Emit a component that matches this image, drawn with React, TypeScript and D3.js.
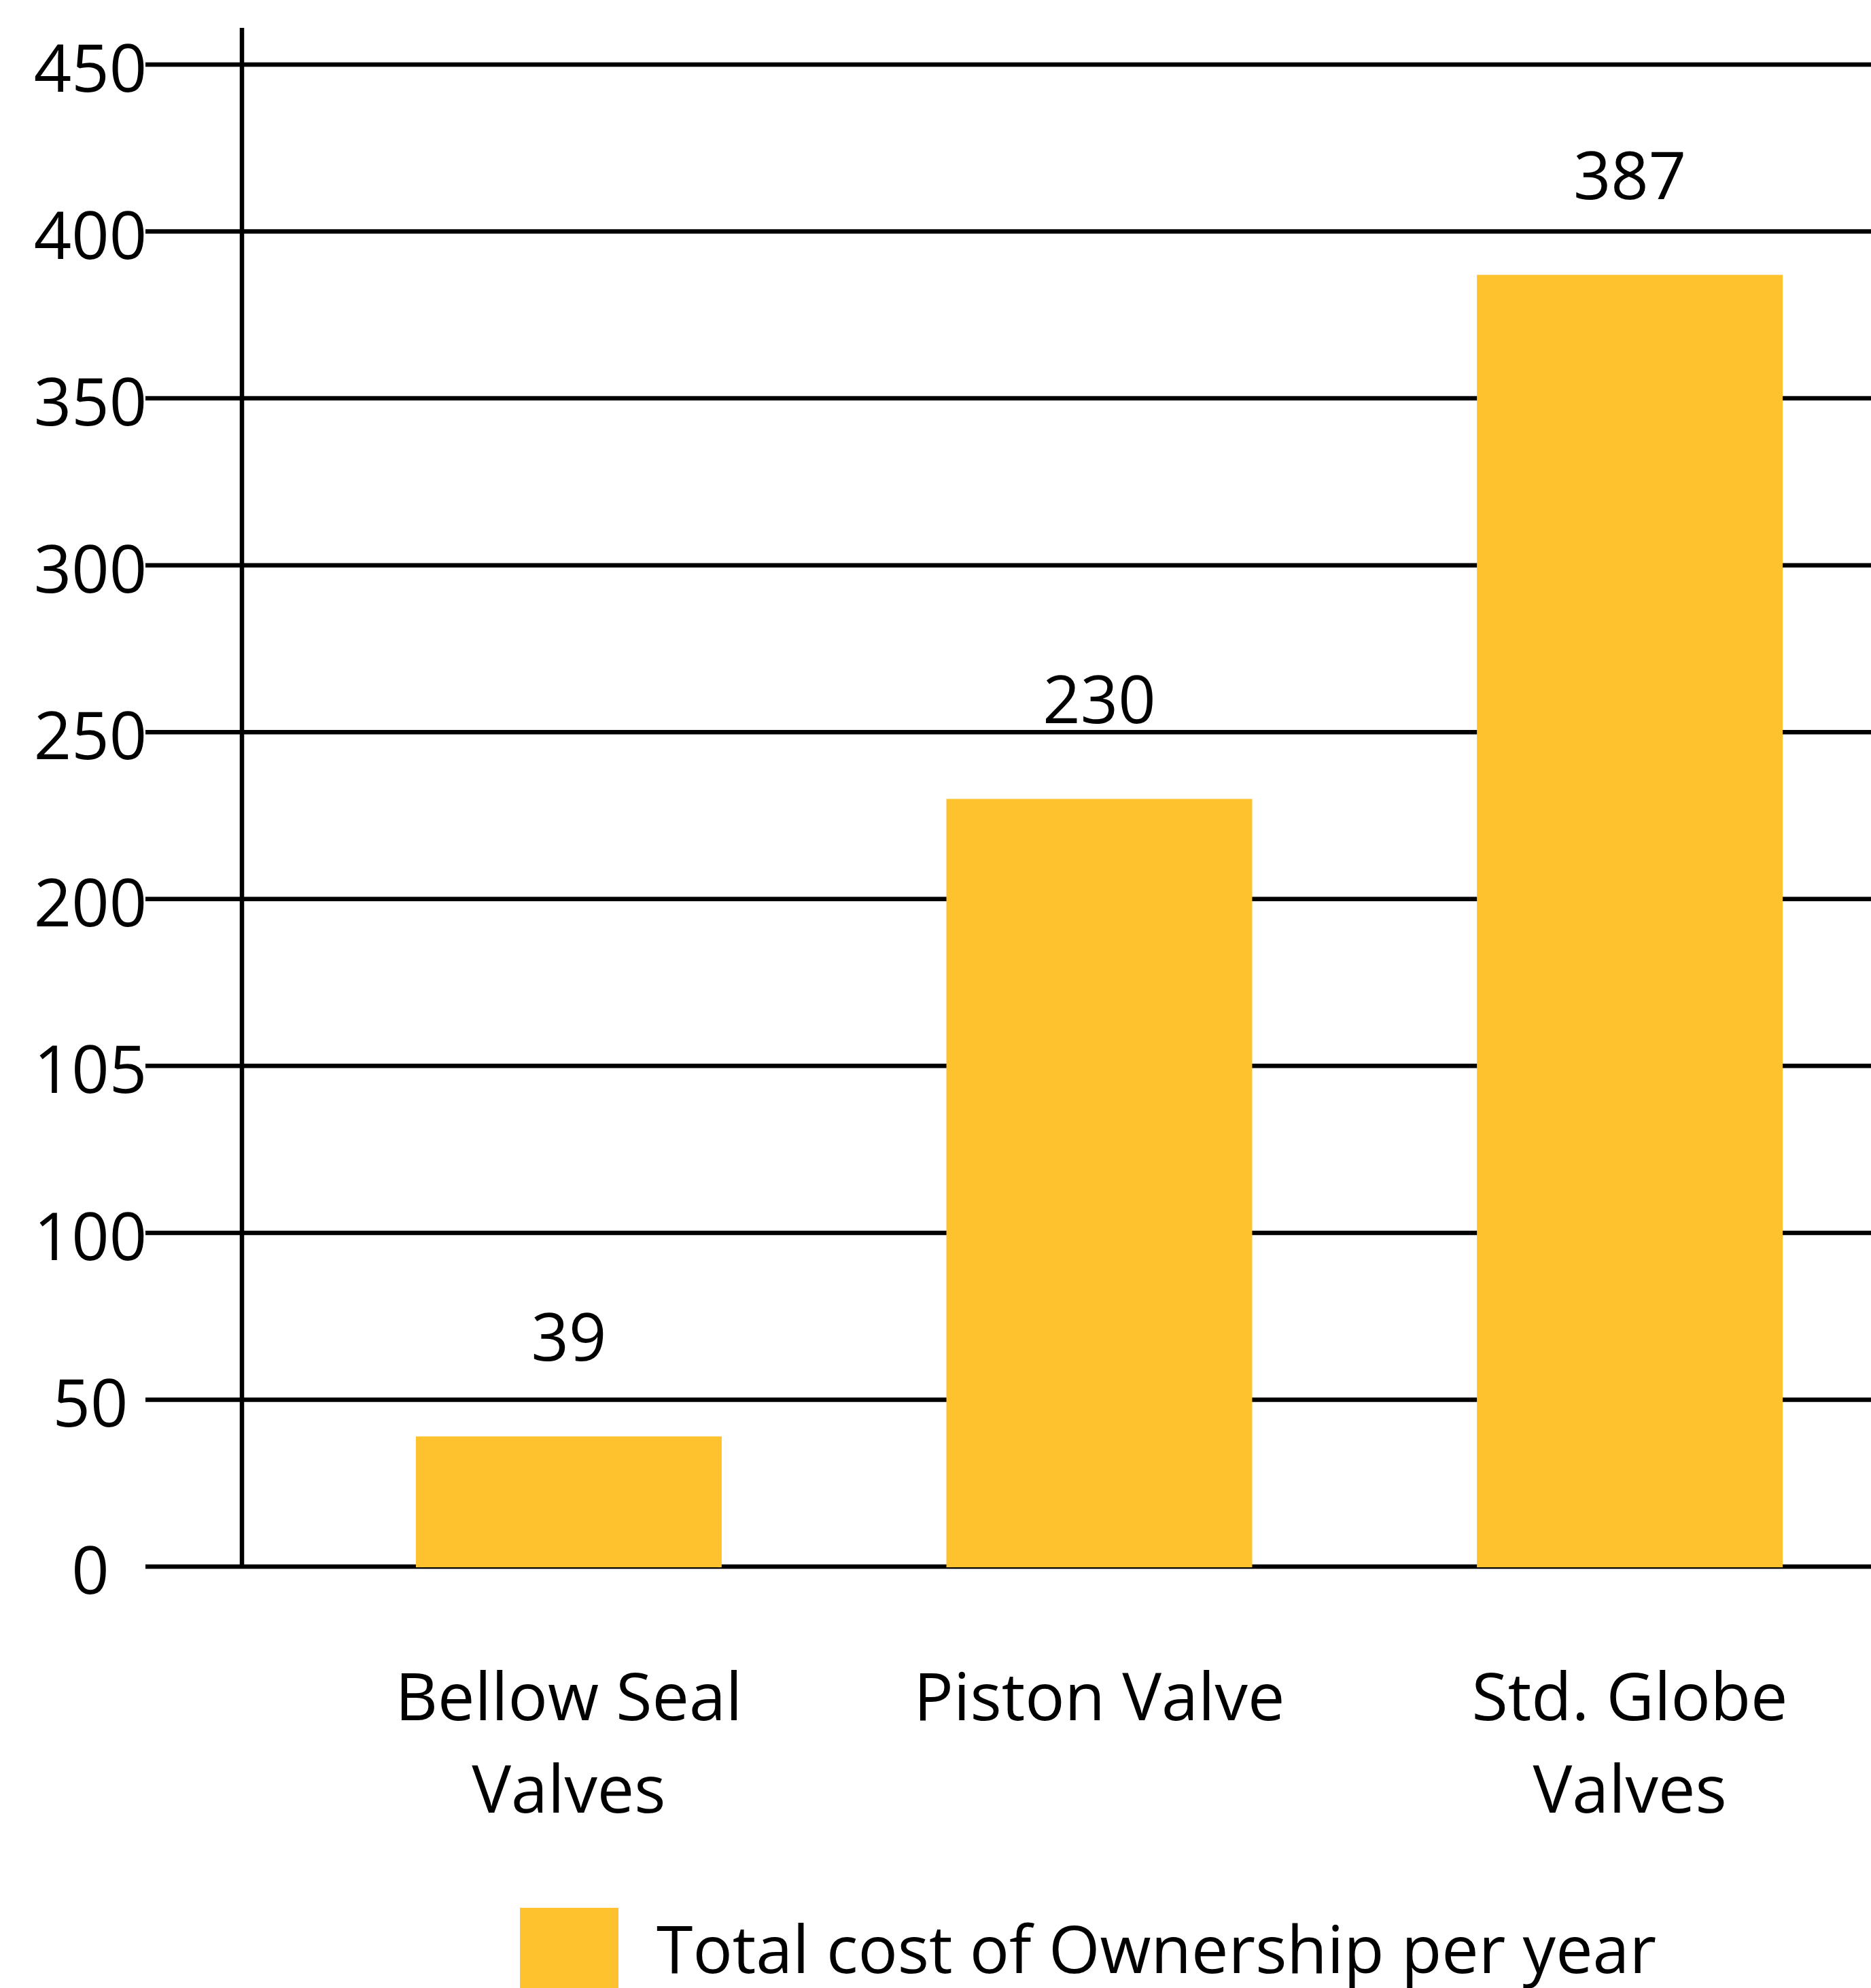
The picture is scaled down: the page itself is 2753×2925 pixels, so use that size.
import React from "react";
import * as d3 from "d3";

// Chart data
const categories = ["Bellow Seal Valves", "Piston Valve", "Std. Globe Valves"];
const categoryLines = [["Bellow Seal", "Valves"], ["Piston Valve"], ["Std. Globe", "Valves"]];
const costs = [39, 230, 387];
const tickValues = [0, 50, 100, 150, 200, 250, 300, 350, 400, 450];
const tickLabels = ["0", "50", "100", "105", "200", "250", "300", "350", "400", "450"];
const seriesName = "Total cost of Ownership per year";

const WIDTH = 2753;
const HEIGHT = 2925;
const FONT = "'Open Sans', 'Noto Sans', sans-serif";
const FONT_SIZE = 97;
const BAR_COLOR = "#FDC22E";

export default function App() {
  const y = d3.scaleLinear().domain([0, 450]).range([2305, 95]);
  const x = d3
    .scaleBand<string>()
    .domain(categories)
    .range([446.6, 2788.4])
    .paddingInner(0.4236)
    .paddingOuter(0.2118);

  const axisX = 356;
  const gridStart = 214;

  return (
    <svg
      width={WIDTH}
      height={HEIGHT}
      viewBox={`0 0 ${WIDTH} ${HEIGHT}`}
      style={{ position: "absolute", left: 0, top: 0, display: "block", background: "#fff" }}
      fontFamily={FONT}
      fontSize={FONT_SIZE}
    >
      <rect x={0} y={0} width={WIDTH} height={HEIGHT} fill="#fff" />

      {/* horizontal gridlines */}
      {tickValues.map((v) => (
        <line key={`g${v}`} x1={gridStart} x2={WIDTH} y1={y(v)} y2={y(v)} stroke="#000" strokeWidth={6.5} />
      ))}

      {/* tick labels */}
      {tickValues.map((v, i) => (
        <text key={`t${v}`} x={133} y={y(v) + 40} textAnchor="middle" fill="#000">
          {tickLabels[i]}
        </text>
      ))}

      {/* vertical axis */}
      <line x1={axisX} x2={axisX} y1={41} y2={y(0)} stroke="#000" strokeWidth={6.5} />

      {/* bars */}
      {categories.map((c, i) => (
        <rect
          key={`b${c}`}
          x={x(c)!}
          y={y(costs[i])}
          width={x.bandwidth()}
          height={y(0) - y(costs[i]) + 1}
          fill={BAR_COLOR}
        />
      ))}

      {/* value labels */}
      {categories.map((c, i) => (
        <text
          key={`v${c}`}
          x={x(c)! + x.bandwidth() / 2}
          y={y(costs[i]) - 111}
          textAnchor="middle"
          fill="#000"
        >
          {costs[i]}
        </text>
      ))}

      {/* category labels */}
      {categories.map((c, i) => (
        <text key={`c${c}`} x={x(c)! + x.bandwidth() / 2} y={2531} textAnchor="middle" fill="#000">
          {categoryLines[i].map((line, j) => (
            <tspan key={j} x={x(c)! + x.bandwidth() / 2} dy={j === 0 ? 0 : 136}>
              {line}
            </tspan>
          ))}
        </text>
      ))}

      {/* legend */}
      <rect x={765} y={2807} width={145} height={140} fill={BAR_COLOR} />
      <text x={966} y={2903} fill="#000">
        {seriesName}
      </text>
    </svg>
  );
}
